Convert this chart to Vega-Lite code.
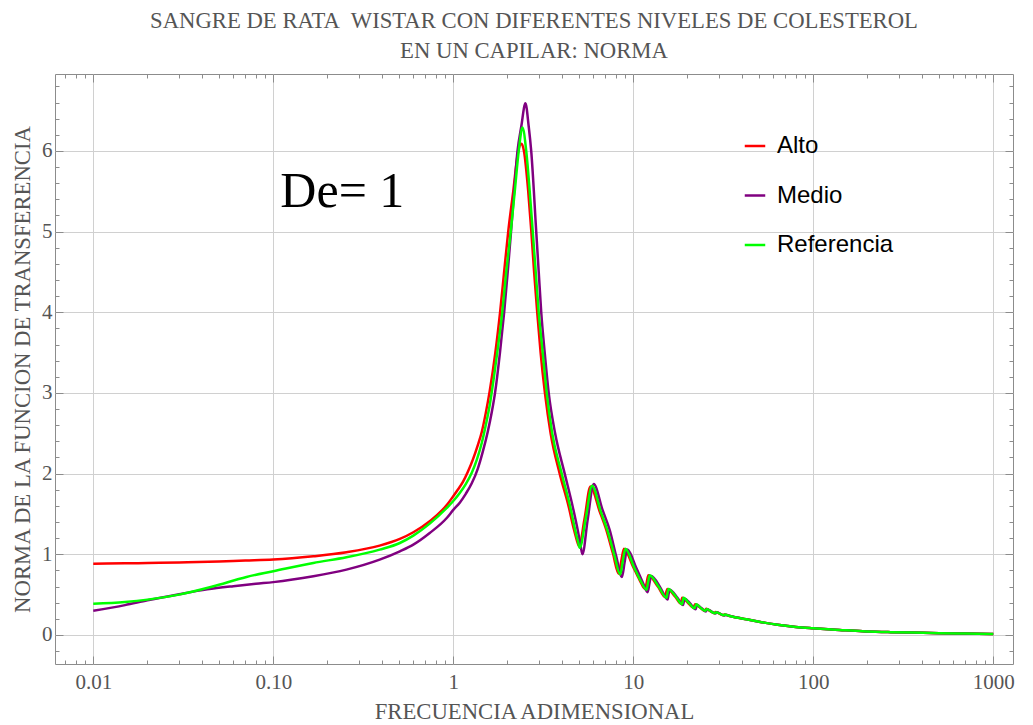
{
"$schema": "https://vega.github.io/schema/vega-lite/v6.json",
"width": 958, "height": 590,
"autosize": {"type": "none"},
"padding": {"left": 55, "top": 74, "right": 20, "bottom": 61},
"background": "white",
"title": {"text": ["SANGRE DE RATA\u00a0 WISTAR CON DIFERENTES NIVELES DE COLESTEROL", "EN UN CAPILAR: NORMA"], "font": "Liberation Serif", "fontSize": 22.7, "fontWeight": "normal", "color": "#555555", "lineHeight": 30, "offset": 11, "anchor": "middle"},
"datasets": {
"curves": [
{"f":0.01,"v":0.884,"s":"Alto"},{"f":0.015,"v":0.888,"s":"Alto"},{"f":0.02,"v":0.892,"s":"Alto"},{"f":0.03,"v":0.899,"s":"Alto"},{"f":0.05,"v":0.911,"s":"Alto"},{"f":0.07,"v":0.922,"s":"Alto"},{"f":0.1,"v":0.934,"s":"Alto"},{"f":0.167,"v":0.975,"s":"Alto"},{"f":0.255,"v":1.025,"s":"Alto"},{"f":0.39,"v":1.107,"s":"Alto"},{"f":0.505,"v":1.19,"s":"Alto"},{"f":0.6,"v":1.273,"s":"Alto"},{"f":0.74,"v":1.41,"s":"Alto"},{"f":0.92,"v":1.61,"s":"Alto"},{"f":1.0,"v":1.72,"s":"Alto"},{"f":1.0592,"v":1.8,"s":"Alto"},{"f":1.1335,"v":1.9,"s":"Alto"},{"f":1.2035,"v":2.02,"s":"Alto"},{"f":1.2831,"v":2.17,"s":"Alto"},{"f":1.3677,"v":2.35,"s":"Alto"},{"f":1.441,"v":2.52,"s":"Alto"},{"f":1.5152,"v":2.75,"s":"Alto"},{"f":1.593,"v":3.02,"s":"Alto"},{"f":1.713,"v":3.5,"s":"Alto"},{"f":1.82,"v":4.0,"s":"Alto"},{"f":1.917,"v":4.5,"s":"Alto"},{"f":2.02,"v":5.0,"s":"Alto"},{"f":2.154,"v":5.5,"s":"Alto"},{"f":2.296,"v":6.0,"s":"Alto"},{"f":2.392,"v":6.09,"s":"Alto"},{"f":2.47,"v":6.0,"s":"Alto"},{"f":2.609,"v":5.5,"s":"Alto"},{"f":2.715,"v":5.0,"s":"Alto"},{"f":2.813,"v":4.5,"s":"Alto"},{"f":2.927,"v":4.0,"s":"Alto"},{"f":3.057,"v":3.5,"s":"Alto"},{"f":3.23,"v":3.0,"s":"Alto"},{"f":3.474,"v":2.5,"s":"Alto"},{"f":3.902,"v":2.0,"s":"Alto"},{"f":4.378,"v":1.59,"s":"Alto"},{"f":4.667,"v":1.32,"s":"Alto"},{"f":4.85,"v":1.18,"s":"Alto"},{"f":4.995,"v":1.1,"s":"Alto"},{"f":5.37,"v":1.45,"s":"Alto"},{"f":5.78,"v":1.84,"s":"Alto"},{"f":6.51,"v":1.53,"s":"Alto"},{"f":7.09,"v":1.3,"s":"Alto"},{"f":7.71,"v":1.01,"s":"Alto"},{"f":8.3,"v":0.76,"s":"Alto"},{"f":8.6,"v":0.93,"s":"Alto"},{"f":8.88,"v":1.07,"s":"Alto"},{"f":9.96,"v":0.85,"s":"Alto"},{"f":10.85,"v":0.68,"s":"Alto"},{"f":11.64,"v":0.57,"s":"Alto"},{"f":11.9,"v":0.66,"s":"Alto"},{"f":12.13,"v":0.74,"s":"Alto"},{"f":13.7,"v":0.6,"s":"Alto"},{"f":15.03,"v":0.47,"s":"Alto"},{"f":15.25,"v":0.53,"s":"Alto"},{"f":15.47,"v":0.57,"s":"Alto"},{"f":17.1,"v":0.475,"s":"Alto"},{"f":18.4,"v":0.39,"s":"Alto"},{"f":18.69,"v":0.46,"s":"Alto"},{"f":20.1,"v":0.4,"s":"Alto"},{"f":21.6,"v":0.34,"s":"Alto"},{"f":22.07,"v":0.38,"s":"Alto"},{"f":23.5,"v":0.34,"s":"Alto"},{"f":24.9,"v":0.3,"s":"Alto"},{"f":25.4,"v":0.325,"s":"Alto"},{"f":26.8,"v":0.295,"s":"Alto"},{"f":28.2,"v":0.27,"s":"Alto"},{"f":28.7,"v":0.285,"s":"Alto"},{"f":31.6,"v":0.245,"s":"Alto"},{"f":32.0,"v":0.255,"s":"Alto"},{"f":34.3,"v":0.236,"s":"Alto"},{"f":42.5,"v":0.194,"s":"Alto"},{"f":50,"v":0.165,"s":"Alto"},{"f":65,"v":0.124,"s":"Alto"},{"f":80,"v":0.1,"s":"Alto"},{"f":100,"v":0.083,"s":"Alto"},{"f":140,"v":0.062,"s":"Alto"},{"f":188.6,"v":0.045,"s":"Alto"},{"f":260,"v":0.036,"s":"Alto"},{"f":357,"v":0.029,"s":"Alto"},{"f":500,"v":0.022,"s":"Alto"},{"f":700,"v":0.017,"s":"Alto"},{"f":1000,"v":0.012,"s":"Alto"},
{"f":0.01,"v":0.3,"s":"Medio"},{"f":0.015,"v":0.37,"s":"Medio"},{"f":0.02,"v":0.43,"s":"Medio"},{"f":0.03,"v":0.505,"s":"Medio"},{"f":0.043,"v":0.565,"s":"Medio"},{"f":0.06,"v":0.605,"s":"Medio"},{"f":0.08,"v":0.635,"s":"Medio"},{"f":0.1,"v":0.655,"s":"Medio"},{"f":0.167,"v":0.727,"s":"Medio"},{"f":0.255,"v":0.81,"s":"Medio"},{"f":0.39,"v":0.934,"s":"Medio"},{"f":0.505,"v":1.037,"s":"Medio"},{"f":0.6,"v":1.12,"s":"Medio"},{"f":0.74,"v":1.264,"s":"Medio"},{"f":0.92,"v":1.45,"s":"Medio"},{"f":1.0,"v":1.55,"s":"Medio"},{"f":1.0866,"v":1.64,"s":"Medio"},{"f":1.1735,"v":1.75,"s":"Medio"},{"f":1.267,"v":1.88,"s":"Medio"},{"f":1.3677,"v":2.06,"s":"Medio"},{"f":1.4579,"v":2.27,"s":"Medio"},{"f":1.5546,"v":2.52,"s":"Medio"},{"f":1.636,"v":2.76,"s":"Medio"},{"f":1.711,"v":3.02,"s":"Medio"},{"f":1.817,"v":3.5,"s":"Medio"},{"f":1.917,"v":4.0,"s":"Medio"},{"f":2.007,"v":4.5,"s":"Medio"},{"f":2.094,"v":5.0,"s":"Medio"},{"f":2.179,"v":5.5,"s":"Medio"},{"f":2.275,"v":6.0,"s":"Medio"},{"f":2.386,"v":6.3,"s":"Medio"},{"f":2.517,"v":6.59,"s":"Medio"},{"f":2.626,"v":6.3,"s":"Medio"},{"f":2.71,"v":6.0,"s":"Medio"},{"f":2.89,"v":5.0,"s":"Medio"},{"f":2.984,"v":4.5,"s":"Medio"},{"f":3.081,"v":4.0,"s":"Medio"},{"f":3.221,"v":3.5,"s":"Medio"},{"f":3.39,"v":3.0,"s":"Medio"},{"f":3.68,"v":2.5,"s":"Medio"},{"f":4.16,"v":2.0,"s":"Medio"},{"f":4.609,"v":1.59,"s":"Medio"},{"f":4.913,"v":1.3,"s":"Medio"},{"f":5.105,"v":1.1,"s":"Medio"},{"f":5.217,"v":1.0,"s":"Medio"},{"f":5.58,"v":1.43,"s":"Medio"},{"f":6.03,"v":1.87,"s":"Medio"},{"f":6.75,"v":1.55,"s":"Medio"},{"f":7.4,"v":1.3,"s":"Medio"},{"f":8.03,"v":0.98,"s":"Medio"},{"f":8.65,"v":0.72,"s":"Medio"},{"f":8.95,"v":0.9,"s":"Medio"},{"f":9.22,"v":1.06,"s":"Medio"},{"f":10.4,"v":0.83,"s":"Medio"},{"f":11.3,"v":0.65,"s":"Medio"},{"f":12.02,"v":0.53,"s":"Medio"},{"f":12.3,"v":0.64,"s":"Medio"},{"f":12.57,"v":0.73,"s":"Medio"},{"f":14.2,"v":0.58,"s":"Medio"},{"f":15.52,"v":0.44,"s":"Medio"},{"f":15.72,"v":0.51,"s":"Medio"},{"f":15.92,"v":0.56,"s":"Medio"},{"f":17.6,"v":0.46,"s":"Medio"},{"f":18.9,"v":0.37,"s":"Medio"},{"f":19.29,"v":0.45,"s":"Medio"},{"f":20.7,"v":0.39,"s":"Medio"},{"f":22.2,"v":0.32,"s":"Medio"},{"f":22.6,"v":0.37,"s":"Medio"},{"f":24.0,"v":0.33,"s":"Medio"},{"f":25.3,"v":0.29,"s":"Medio"},{"f":25.8,"v":0.32,"s":"Medio"},{"f":27.2,"v":0.29,"s":"Medio"},{"f":28.6,"v":0.265,"s":"Medio"},{"f":29.1,"v":0.28,"s":"Medio"},{"f":32.1,"v":0.24,"s":"Medio"},{"f":32.5,"v":0.25,"s":"Medio"},{"f":34.5,"v":0.235,"s":"Medio"},{"f":42.5,"v":0.194,"s":"Medio"},{"f":50,"v":0.165,"s":"Medio"},{"f":65,"v":0.124,"s":"Medio"},{"f":80,"v":0.1,"s":"Medio"},{"f":100,"v":0.083,"s":"Medio"},{"f":140,"v":0.062,"s":"Medio"},{"f":188.6,"v":0.045,"s":"Medio"},{"f":260,"v":0.036,"s":"Medio"},{"f":357,"v":0.029,"s":"Medio"},{"f":500,"v":0.022,"s":"Medio"},{"f":700,"v":0.017,"s":"Medio"},{"f":1000,"v":0.012,"s":"Medio"},
{"f":0.01,"v":0.388,"s":"Referencia"},{"f":0.015,"v":0.41,"s":"Referencia"},{"f":0.02,"v":0.438,"s":"Referencia"},{"f":0.03,"v":0.5,"s":"Referencia"},{"f":0.046,"v":0.6,"s":"Referencia"},{"f":0.071,"v":0.719,"s":"Referencia"},{"f":0.1,"v":0.789,"s":"Referencia"},{"f":0.167,"v":0.893,"s":"Referencia"},{"f":0.255,"v":0.963,"s":"Referencia"},{"f":0.39,"v":1.058,"s":"Referencia"},{"f":0.505,"v":1.14,"s":"Referencia"},{"f":0.6,"v":1.231,"s":"Referencia"},{"f":0.74,"v":1.38,"s":"Referencia"},{"f":0.92,"v":1.574,"s":"Referencia"},{"f":1.0,"v":1.66,"s":"Referencia"},{"f":1.0866,"v":1.76,"s":"Referencia"},{"f":1.1735,"v":1.87,"s":"Referencia"},{"f":1.267,"v":2.01,"s":"Referencia"},{"f":1.3504,"v":2.17,"s":"Referencia"},{"f":1.4395,"v":2.38,"s":"Referencia"},{"f":1.5152,"v":2.6,"s":"Referencia"},{"f":1.5946,"v":2.85,"s":"Referencia"},{"f":1.6783,"v":3.18,"s":"Referencia"},{"f":1.755,"v":3.5,"s":"Referencia"},{"f":1.871,"v":4.0,"s":"Referencia"},{"f":1.969,"v":4.5,"s":"Referencia"},{"f":2.086,"v":5.0,"s":"Referencia"},{"f":2.196,"v":5.5,"s":"Referencia"},{"f":2.311,"v":6.0,"s":"Referencia"},{"f":2.423,"v":6.29,"s":"Referencia"},{"f":2.543,"v":6.0,"s":"Referencia"},{"f":2.659,"v":5.5,"s":"Referencia"},{"f":2.764,"v":5.0,"s":"Referencia"},{"f":2.871,"v":4.5,"s":"Referencia"},{"f":2.984,"v":4.0,"s":"Referencia"},{"f":3.14,"v":3.5,"s":"Referencia"},{"f":3.305,"v":3.0,"s":"Referencia"},{"f":3.545,"v":2.5,"s":"Referencia"},{"f":4.004,"v":2.0,"s":"Referencia"},{"f":4.462,"v":1.59,"s":"Referencia"},{"f":4.758,"v":1.3,"s":"Referencia"},{"f":4.944,"v":1.15,"s":"Referencia"},{"f":5.04,"v":1.08,"s":"Referencia"},{"f":5.45,"v":1.45,"s":"Referencia"},{"f":5.9,"v":1.85,"s":"Referencia"},{"f":6.6,"v":1.53,"s":"Referencia"},{"f":7.2,"v":1.29,"s":"Referencia"},{"f":7.85,"v":0.99,"s":"Referencia"},{"f":8.46,"v":0.75,"s":"Referencia"},{"f":8.75,"v":0.92,"s":"Referencia"},{"f":9.05,"v":1.07,"s":"Referencia"},{"f":10.1,"v":0.84,"s":"Referencia"},{"f":11.0,"v":0.67,"s":"Referencia"},{"f":11.84,"v":0.56,"s":"Referencia"},{"f":12.1,"v":0.66,"s":"Referencia"},{"f":12.33,"v":0.74,"s":"Referencia"},{"f":13.9,"v":0.59,"s":"Referencia"},{"f":15.29,"v":0.46,"s":"Referencia"},{"f":15.5,"v":0.52,"s":"Referencia"},{"f":15.68,"v":0.57,"s":"Referencia"},{"f":17.3,"v":0.47,"s":"Referencia"},{"f":18.66,"v":0.38,"s":"Referencia"},{"f":19.0,"v":0.46,"s":"Referencia"},{"f":20.4,"v":0.395,"s":"Referencia"},{"f":21.9,"v":0.33,"s":"Referencia"},{"f":22.35,"v":0.38,"s":"Referencia"},{"f":23.7,"v":0.335,"s":"Referencia"},{"f":25.1,"v":0.3,"s":"Referencia"},{"f":25.6,"v":0.322,"s":"Referencia"},{"f":27.0,"v":0.292,"s":"Referencia"},{"f":28.4,"v":0.268,"s":"Referencia"},{"f":28.9,"v":0.282,"s":"Referencia"},{"f":31.8,"v":0.243,"s":"Referencia"},{"f":32.2,"v":0.254,"s":"Referencia"},{"f":34.3,"v":0.236,"s":"Referencia"},{"f":42.5,"v":0.194,"s":"Referencia"},{"f":50,"v":0.165,"s":"Referencia"},{"f":65,"v":0.124,"s":"Referencia"},{"f":80,"v":0.1,"s":"Referencia"},{"f":100,"v":0.083,"s":"Referencia"},{"f":140,"v":0.062,"s":"Referencia"},{"f":188.6,"v":0.045,"s":"Referencia"},{"f":260,"v":0.036,"s":"Referencia"},{"f":357,"v":0.029,"s":"Referencia"},{"f":500,"v":0.022,"s":"Referencia"},{"f":700,"v":0.017,"s":"Referencia"},{"f":1000,"v":0.012,"s":"Referencia"}
],
"note": [{"f": 0.242, "v": 5.306, "label": "De= 1"}]
},
"data": {"name": "curves"},
"config": {
  "view": {"stroke": "#8c8c8c", "strokeWidth": 1},
  "axis": {"domain": false, "labelFont": "Liberation Serif", "labelFontSize": 21, "labelColor": "#555555", "titleFont": "Liberation Serif", "titleFontSize": 22.7, "titleColor": "#555555", "titleFontWeight": "normal", "gridColor": "#d0d0d0", "gridWidth": 1, "tickColor": "#8c8c8c", "tickWidth": 1}
},
"resolve": {"axis": {"x": "independent", "y": "independent"}},
"layer": [
  {
    "mark": {"type": "line", "strokeWidth": 2.5, "interpolate": "monotone"},
    "encoding": {
      "x": {"field": "f", "type": "quantitative", "scale": {"type": "log", "domain": [0.00613, 1287], "nice": false, "zero": false},
        "axis": {"orient": "bottom", "values": [0.01, 0.1, 1, 10, 100, 1000], "ticks": false, "grid": true, "labelExpr": "datum.value < 1 ? format(datum.value, '.2f') : format(datum.value, 'd')", "labelPadding": 7, "title": "FRECUENCIA ADIMENSIONAL", "titlePadding": 8}},
      "y": {"field": "v", "type": "quantitative", "scale": {"domain": [-0.36, 6.954], "nice": false, "zero": false},
        "axis": {"orient": "left", "values": [0, 1, 2, 3, 4, 5, 6], "ticks": false, "grid": true, "labelPadding": 3, "title": "NORMA DE LA FUNCION DE TRANSFERENCIA", "titlePadding": 7}},
      "color": {"field": "s", "type": "nominal", "scale": {"domain": ["Alto", "Medio", "Referencia"], "range": ["#ff0000", "#800080", "#00ff00"]},
        "legend": {"title": null, "orient": "none", "legendX": 688, "legendY": 60, "symbolType": "stroke", "symbolSize": 420, "symbolStrokeWidth": 2.5, "labelFont": "Liberation Sans", "labelFontSize": 24, "labelColor": "#000000", "labelOffset": 10, "rowPadding": 25.5, "padding": 0}}
    }
  },
  {
    "mark": {"type": "point", "opacity": 0, "size": 1},
    "encoding": {
      "x": {"field": "f", "type": "quantitative", "scale": {"type": "log", "domain": [0.00613, 1287], "nice": false, "zero": false},
        "axis": {"orient": "bottom", "values": [0.01, 0.1, 1, 10, 100, 1000], "labels": false, "grid": false, "tickSize": -8, "title": null}},
      "y": {"field": "v", "type": "quantitative", "scale": {"domain": [-0.36, 6.954], "nice": false, "zero": false},
        "axis": {"orient": "left", "values": [0, 1, 2, 3, 4, 5, 6], "labels": false, "grid": false, "tickSize": -8, "title": null}}
    }
  },
  {
    "mark": {"type": "point", "opacity": 0, "size": 1},
    "encoding": {
      "x": {"field": "f", "type": "quantitative", "scale": {"type": "log", "domain": [0.00613, 1287], "nice": false, "zero": false},
        "axis": {"orient": "bottom", "values": [0.007, 0.008, 0.009, 0.02, 0.03, 0.04, 0.05, 0.06, 0.07, 0.08, 0.09, 0.2, 0.3, 0.4, 0.5, 0.6, 0.7, 0.8, 0.9, 2, 3, 4, 5, 6, 7, 8, 9, 20, 30, 40, 50, 60, 70, 80, 90, 200, 300, 400, 500, 600, 700, 800, 900], "labels": false, "grid": false, "tickSize": -4, "title": null}},
      "y": {"field": "v", "type": "quantitative", "scale": {"domain": [-0.36, 6.954], "nice": false, "zero": false},
        "axis": {"orient": "left", "values": [-0.2, 0.2, 0.4, 0.6, 0.8, 1.2, 1.4, 1.6, 1.8, 2.2, 2.4, 2.6, 2.8, 3.2, 3.4, 3.6, 3.8, 4.2, 4.4, 4.6, 4.8, 5.2, 5.4, 5.6, 5.8, 6.2, 6.4, 6.6, 6.8], "labels": false, "grid": false, "tickSize": -4, "title": null}}
    }
  },
  {
    "mark": {"type": "point", "opacity": 0, "size": 1},
    "encoding": {
      "x": {"field": "f", "type": "quantitative", "scale": {"type": "log", "domain": [0.00613, 1287], "nice": false, "zero": false},
        "axis": {"orient": "top", "values": [0.01, 0.1, 1, 10, 100, 1000], "labels": false, "grid": false, "tickSize": -8, "title": null}},
      "y": {"field": "v", "type": "quantitative", "scale": {"domain": [-0.36, 6.954], "nice": false, "zero": false},
        "axis": {"orient": "right", "values": [0, 1, 2, 3, 4, 5, 6], "labels": false, "grid": false, "tickSize": -8, "title": null}}
    }
  },
  {
    "mark": {"type": "point", "opacity": 0, "size": 1},
    "encoding": {
      "x": {"field": "f", "type": "quantitative", "scale": {"type": "log", "domain": [0.00613, 1287], "nice": false, "zero": false},
        "axis": {"orient": "top", "values": [0.007, 0.008, 0.009, 0.02, 0.03, 0.04, 0.05, 0.06, 0.07, 0.08, 0.09, 0.2, 0.3, 0.4, 0.5, 0.6, 0.7, 0.8, 0.9, 2, 3, 4, 5, 6, 7, 8, 9, 20, 30, 40, 50, 60, 70, 80, 90, 200, 300, 400, 500, 600, 700, 800, 900], "labels": false, "grid": false, "tickSize": -4, "title": null}},
      "y": {"field": "v", "type": "quantitative", "scale": {"domain": [-0.36, 6.954], "nice": false, "zero": false},
        "axis": {"orient": "right", "values": [-0.2, 0.2, 0.4, 0.6, 0.8, 1.2, 1.4, 1.6, 1.8, 2.2, 2.4, 2.6, 2.8, 3.2, 3.4, 3.6, 3.8, 4.2, 4.4, 4.6, 4.8, 5.2, 5.4, 5.6, 5.8, 6.2, 6.4, 6.6, 6.8], "labels": false, "grid": false, "tickSize": -4, "title": null}}
    }
  },
  {
    "data": {"name": "note"},
    "mark": {"type": "text", "font": "Liberation Serif", "fontSize": 50, "align": "center", "baseline": "alphabetic", "color": "#000000"},
    "encoding": {
      "x": {"field": "f", "type": "quantitative", "scale": {"type": "log", "domain": [0.00613, 1287], "nice": false, "zero": false}, "axis": null},
      "y": {"field": "v", "type": "quantitative", "scale": {"domain": [-0.36, 6.954], "nice": false, "zero": false}, "axis": null},
      "text": {"field": "label"}
    }
  }
]
}
